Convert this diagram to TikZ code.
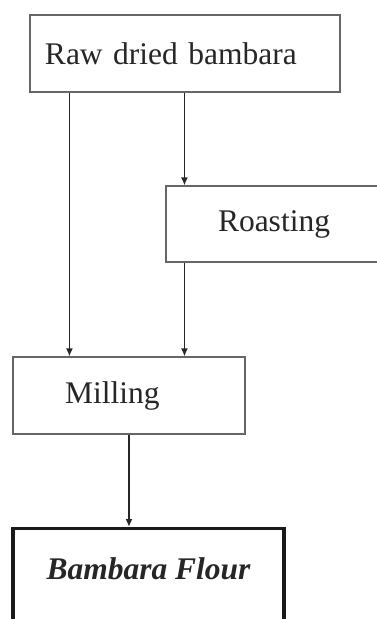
\documentclass[tikz,border=0pt]{standalone}
\usepackage{fontspec}
\setmainfont{Liberation Serif}
\usetikzlibrary{arrows.meta}
\begin{document}
\begin{tikzpicture}[x=1pt,y=-1pt,
  box/.style={draw=black!60, line width=1.1pt, rectangle, inner sep=0pt, font=\fontsize{31.5}{36}\selectfont, text=black!85},
  arr/.style={draw=black!85, line width=1.6pt, -{Latex[length=8pt,width=7pt]}},
  flour/.style={draw=black!90, line width=3.4pt, rectangle, inner sep=0pt, font=\fontsize{31.5}{36}\selectfont\bfseries\itshape, text=black!85}]
\useasboundingbox (0,0) rectangle (377,619);
\begin{scope}
\clip (0,0) rectangle (377,619);
\node[box, minimum width=310pt, minimum height=77pt, text width=280pt, align=left, inner xsep=15pt] (raw) at (185,53.5) {Raw dried bambara};
\node[box, minimum width=216pt, minimum height=76pt] (roast) at (274,224) {Roasting};
\node[box, minimum width=232pt, minimum height=77pt, text width=128pt, align=left, inner xsep=52pt] (mill) at (129,395.5) {Milling};
\node[flour, anchor=north, minimum width=271pt, text height=51pt, text depth=55pt] (fl) at (148.5,527) {Bambara Flour};
\end{scope}
\draw[arr] ([xshift=40pt]raw.south west) -- ([xshift=57pt]mill.north west);
\draw[arr] ([xshift=155pt]raw.south west) -- ([xshift=19pt]roast.north west);
\draw[arr] ([xshift=19pt]roast.south west) -- ([xshift=172pt]mill.north west);
\draw[arr] (mill.south) -- (mill.south |- fl.north);
\end{tikzpicture}
\end{document}
